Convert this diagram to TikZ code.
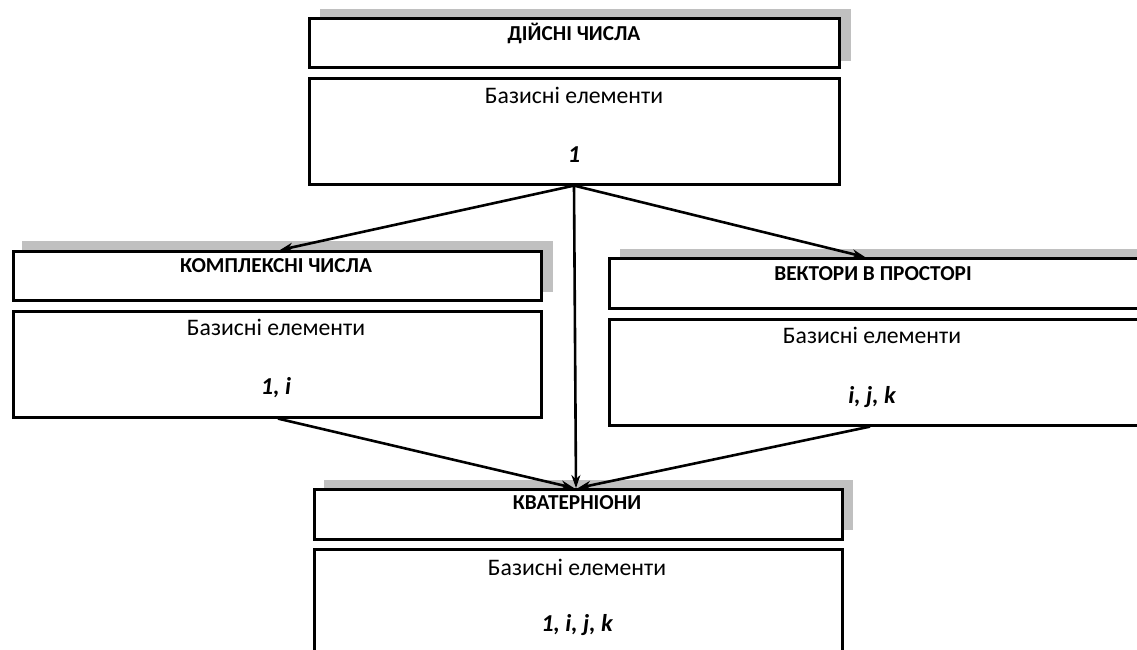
\documentclass[tikz,border=0pt]{standalone}
\usepackage{fontspec}
\setmainfont{Carlito}
\usetikzlibrary{arrows.meta,calc}
\definecolor{shadowgray}{HTML}{C0C0C0}
\tikzset{
  framebox/.style={draw=black, line width=2.6pt, fill=white, anchor=north west, inner sep=0pt},
  titletext/.style={font=\fontsize{21.3}{25}\selectfont\bfseries, inner sep=0pt},
  basetext/.style={font=\fontsize{23.7}{28}\selectfont, inner sep=0pt},
  elemtext/.style={font=\fontsize{24.3}{28}\selectfont\bfseries\itshape, inner sep=0pt},
  conn/.style={line width=2.6pt, -{Stealth[length=13pt,width=9pt]}}
}
\begin{document}
\begin{tikzpicture}[x=1pt,y=-1pt]
\useasboundingbox (0,0) rectangle (1137,650);
\clip (0,0) rectangle (1137,650);
% shadows
\fill[shadowgray] (320,9) rectangle (851,61);
\fill[shadowgray] (22,241) rectangle (553,292);
\fill[shadowgray] (620,249) rectangle (1150,300);
\fill[shadowgray] (324,480) rectangle (853,530);
% boxes
\node[framebox, minimum width=530pt, minimum height=49pt] (t1) at (308,17) {};
\node[framebox, minimum width=530pt, minimum height=106pt] (b1) at (308,77) {};
\node[framebox, minimum width=528pt, minimum height=49pt] (t2) at (12,250) {};
\node[framebox, minimum width=528pt, minimum height=106pt] (b2) at (12,310) {};
\node[framebox, minimum width=540pt, minimum height=50pt] (t3) at (608,257) {};
\node[framebox, minimum width=540pt, minimum height=106pt] (b3) at (608,318) {};
\node[framebox, minimum width=528pt, minimum height=50pt] (t4) at (313,488) {};
\node[framebox, minimum width=528pt, minimum height=110pt] (b4) at (313,548) {};
% texts
\node[titletext] (t1txt) at (574,33) {ДІЙСНІ ЧИСЛА};
\node[basetext] (b1a) at (574,95) {Базисні елементи};
\node[elemtext] (b1b) at (574,155) {1};
\node[titletext] (t2txt) at (276,266) {КОМПЛЕКСНІ ЧИСЛА};
\node[basetext] (b2a) at (276,327) {Базисні елементи};
\node[elemtext] (b2b) at (276,388) {1, i};
\node[titletext] (t3txt) at (873,274) {ВЕКТОРИ В ПРОСТОРІ};
\node[basetext] (b3a) at (872,335) {Базисні елементи};
\node[elemtext] (b3b) at (872,397) {i, j, k};
\node[titletext] (t4txt) at (577,503) {КВАТЕРНІОНИ};
\node[basetext] (b4a) at (577,567) {Базисні елементи};
\node[elemtext] (b4b) at (577,625) {1, i, j, k};
% connectors
\draw[conn] ($(b1.south west)+(266,0)$) -- ($(t2.north west)+(268,0)$);
\draw[conn] ($(b1.south west)+(266,0)$) -- ($(t3.north west)+(257,0)$);
\draw[conn] ($(b1.south west)+(266,0)$) -- ($(t4.north west)+(263,0)$);
\draw[conn] ($(b2.south west)+(266,0)$) -- ($(t4.north west)+(261,0)$);
\draw[conn] ($(b3.south west)+(262,0)$) -- ($(t4.north west)+(265,0)$);
\end{tikzpicture}
\end{document}
